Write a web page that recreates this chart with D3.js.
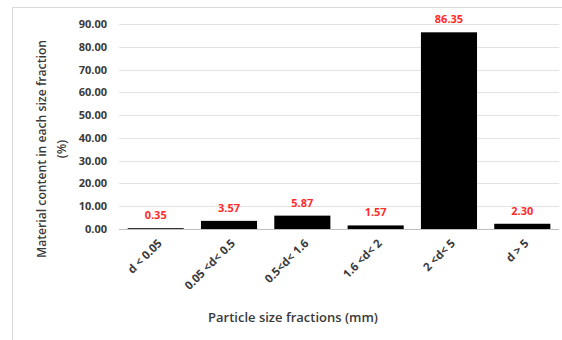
<!DOCTYPE html>
<html>
<head>
<meta charset="utf-8">
<script src="https://cdn.jsdelivr.net/npm/d3@7"></script>
<style>
  html, body { margin: 0; padding: 0; background: #fff; }
  svg text { font-family: "Open Sans", "Liberation Sans", sans-serif; }
</style>
</head>
<body>
<svg id="chart" width="562" height="340"></svg>
<script>
// Particle size distribution: share of material in each size fraction
const categories = ["d < 0.05", "0.05 <d< 0.5", "0.5<d< 1.6", "1.6 <d< 2", "2 <d< 5", "d > 5"];
const values = [0.35, 3.57, 5.87, 1.57, 86.35, 2.30];
const yTicks = [0, 10, 20, 30, 40, 50, 60, 70, 80, 90];

const svg = d3.select("#chart");

// outer chart frame
svg.append("rect")
  .attr("x", 12.5).attr("y", 7.5)
  .attr("width", 620).attr("height", 400)
  .attr("fill", "#fff").attr("stroke", "#d9d9d9");

const x = d3.scaleBand().domain(categories).range([119, 559]).paddingInner(0.235).paddingOuter(0.118);
const y = d3.scaleLinear().domain([0, 90]).range([229, 24]);

// horizontal gridlines
svg.append("g").selectAll("line")
  .data(yTicks.filter(t => t > 0))
  .join("line")
  .attr("x1", 119).attr("x2", 559)
  .attr("y1", d => Math.round(y(d)) + 0.5).attr("y2", d => Math.round(y(d)) + 0.5)
  .attr("stroke", "#e3e3e3").attr("stroke-width", 1);

// y axis tick labels
const yAxis = d3.axisLeft(y).tickValues(yTicks).tickFormat(d3.format(".2f")).tickSize(0).tickPadding(0);
const gy = svg.append("g").attr("transform", "translate(107,0)").call(yAxis);
gy.select(".domain").remove();
gy.selectAll("text")
  .attr("fill", "#3a3a3a")
  .style("font-size", "11px").style("font-weight", "bold");

// bars
svg.append("g").selectAll("rect")
  .data(values)
  .join("rect")
  .attr("x", (d, i) => x(categories[i]))
  .attr("width", x.bandwidth())
  .attr("y", d => y(d))
  .attr("height", d => y(0) - y(d))
  .attr("fill", "#000");

// baseline
svg.append("line")
  .attr("x1", 119).attr("x2", 559)
  .attr("y1", y(0) + 0.5).attr("y2", y(0) + 0.5)
  .attr("stroke", "#bfbfbf");

// value labels
svg.append("g").selectAll("text")
  .data(values)
  .join("text")
  .attr("x", (d, i) => x(categories[i]) + x.bandwidth() / 2)
  .attr("y", d => y(d) - 9)
  .attr("text-anchor", "middle")
  .attr("fill", "#ff2a2a")
  .style("font-size", "11px").style("font-weight", "bold")
  .text(d => d3.format(".2f")(d));

// category labels, rotated
const xAxis = d3.axisBottom(x).tickSize(0).tickPadding(0);
const gx = svg.append("g").attr("transform", `translate(0,${y(0)})`).call(xAxis);
gx.select(".domain").remove();
gx.selectAll(".tick text")
  .attr("fill", "#3a3a3a")
  .style("font-size", "11.5px").style("font-weight", "bold")
  .attr("text-anchor", "end")
  .attr("dy", 0)
  .attr("transform", "translate(7,15) rotate(-45)");

// axis titles
svg.append("text")
  .attr("x", 293).attr("y", 322)
  .attr("text-anchor", "middle")
  .attr("fill", "#3a3a3a")
  .style("font-size", "13px").style("font-weight", "600")
  .text("Particle size fractions (mm)");

const yTitle = svg.append("text")
  .attr("transform", "translate(0,149) rotate(-90)")
  .attr("text-anchor", "middle")
  .attr("fill", "#3a3a3a")
  .style("font-size", "12.2px").style("font-weight", "600");
yTitle.append("tspan").attr("x", 0).attr("y", 46).text("Material content in each size fraction");
yTitle.append("tspan").attr("x", 0).attr("y", 66).text("(%)");
</script>
</body>
</html>
